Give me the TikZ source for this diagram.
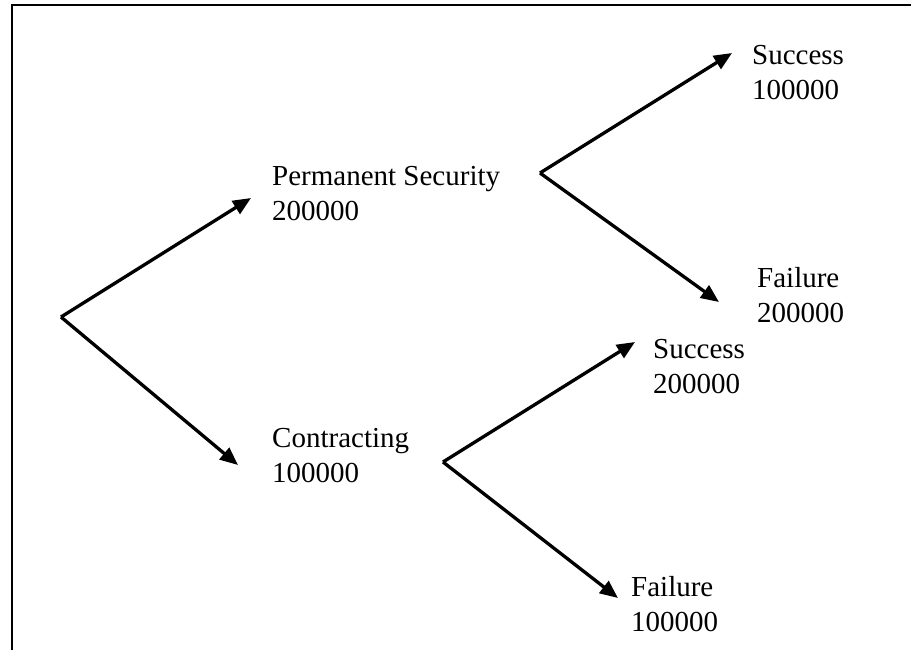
\documentclass[tikz,border=0pt]{standalone}
\usepackage{fontspec}
\setmainfont{Liberation Serif}
\usetikzlibrary{arrows.meta}
\begin{document}
\begin{tikzpicture}[x=1pt,y=-1pt,font=\fontsize{29}{35}\selectfont,
  branch/.style={line width=3.3pt,-{Triangle[length=18pt,width=15pt]}},
  outcome/.style={anchor=base west,align=left,inner sep=0pt}]
  \useasboundingbox (0,0) rectangle (911,650);
  \clip (0,0) rectangle (911,650);
  \draw[line width=2.8pt] (12,5) rectangle (960,700);
  % decision points
  \coordinate (root) at (61,317);
  \coordinate (permfork) at (540,173);
  \coordinate (contrfork) at (443,462);
  % arrow ends
  \coordinate (toperm) at (251,198);
  \coordinate (tocontr) at (238,465);
  \coordinate (topsucc) at (732,53);
  \coordinate (topfail) at (719,302);
  \coordinate (tocsucc) at (635,342);
  \coordinate (tocfail) at (618,598);
  % labels (anchored on the baseline of the second line)
  \node[outcome] (perm) at (272,220) {Permanent Security\\200000};
  \node[outcome] (contr) at (272,482) {Contracting\\100000};
  \node[outcome] (psucc) at (752,100) {Success\\100000};
  \node[outcome] (pfail) at (757,322) {Failure\\200000};
  \node[outcome] (csucc) at (653,393) {Success\\200000};
  \node[outcome] (cfail) at (631,631) {Failure\\100000};
  % branches
  \draw[branch] (root) -- (toperm);
  \draw[branch] (root) -- (tocontr);
  \draw[branch] (permfork) -- (topsucc);
  \draw[branch] (permfork) -- (topfail);
  \draw[branch] (contrfork) -- (tocsucc);
  \draw[branch] (contrfork) -- (tocfail);
\end{tikzpicture}
\end{document}
